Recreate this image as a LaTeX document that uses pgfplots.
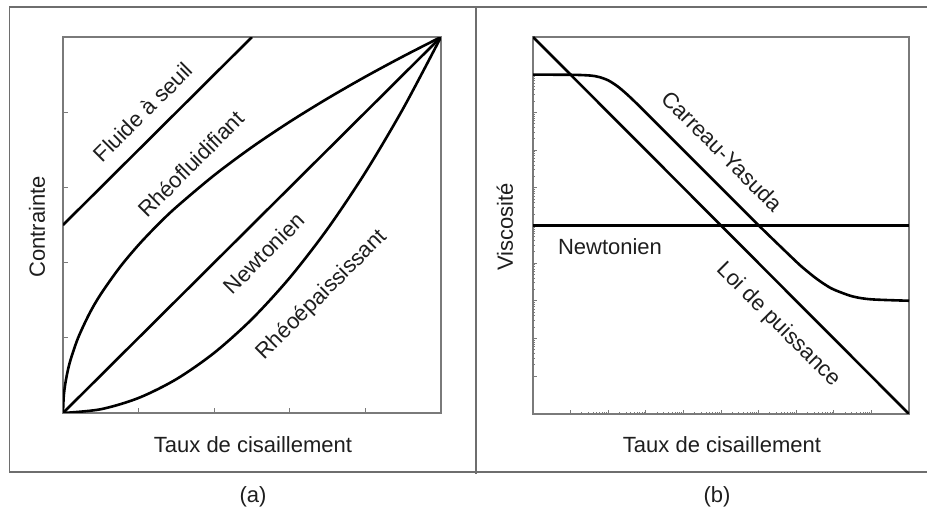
\documentclass[border=0pt]{standalone}
\usepackage{pgfplots}
\pgfplotsset{compat=1.18}
\usepackage{fontspec}
\setmainfont{Liberation Sans}
\definecolor{framegray}{HTML}{6E6E6E}
\definecolor{axgray}{HTML}{7A7A7A}
\definecolor{txt}{HTML}{1E1E1E}
\begin{document}
\begin{tikzpicture}
\path[use as bounding box] (0bp,0bp) rectangle (463.5bp,255.5bp);
% outer frame
\draw[framegray, line width=0.6bp] (463.5bp,252bp) -- (4.75bp,252bp) -- (4.75bp,19.5bp) -- (463.5bp,19.5bp);
\draw[framegray, line width=0.6bp] (238bp,252bp) -- (238bp,18.5bp);

\begin{axis}[
  at={(31.5bp,49bp)}, anchor=south west, scale only axis,
  width=189bp, height=188bp,
  xmin=0, xmax=5, ymin=0, ymax=5,
  xtick={1,2,3,4}, ytick={1,2,3,4},
  xticklabels={}, yticklabels={},
  tick align=inside, tick pos=left,
  major tick length=2.5bp,
  every tick/.style={axgray, line width=0.5bp},
  axis line style={axgray, line width=0.6bp},
]
\addplot[black, line width=1.3bp] coordinates {(0,2.5) (2.5,5)};
\addplot[black, line width=1.3bp] coordinates {(0,0) (5,5)};
\addplot[black, line width=1.3bp, smooth] coordinates {
 (0,0) (0.01,0.224) (0.03,0.387) (0.06,0.548) (0.1,0.707) (0.2,1.0) (0.35,1.323) (0.5,1.581)
 (0.75,1.936) (1,2.236) (1.25,2.5) (1.5,2.739) (2,3.162) (2.5,3.536) (3,3.873)
 (3.5,4.183) (4,4.472) (4.5,4.743) (5,5)};
\addplot[black, line width=1.3bp, smooth] coordinates {
 (0,0) (0.5,0.05) (1,0.2) (1.5,0.45) (2,0.8) (2.5,1.25) (3,1.8) (3.5,2.45)
 (4,3.2) (4.5,4.05) (5,5)};
\end{axis}

\begin{axis}[
  at={(266.5bp,48.5bp)}, anchor=south west, scale only axis,
  width=188bp, height=188.5bp,
  xmode=log, ymode=log,
  xmin=1, xmax=1e10, ymin=1, ymax=1e10,
  xtick={1e1,1e2,1e3,1e4,1e5,1e6,1e7,1e8,1e9},
  ytick={1e1,1e2,1e3,1e4,1e5,1e6,1e7,1e8,1e9},
  xticklabels={}, yticklabels={},
  tick align=inside, tick pos=left,
  major tick length=2.2bp, minor tick length=1.2bp,
  every tick/.style={axgray, line width=0.5bp},
  axis line style={axgray, line width=0.6bp},
]
\addplot[black, line width=1.3bp] coordinates {(1,1e10) (1e10,1)};
\addplot[black, line width=1.3bp] coordinates {(1,1e5) (1e10,1e5)};
\addplot[black, line width=1.3bp, smooth] coordinates {
 (1,1e9) (10,9.95e8) (31.62,9.535e8) (56.23,8.716e8) (100,7.071e8) (177.8,4.90e8)
 (316.2,3.015e8) (562.3,1.751e8) (1000,9.95e7) (1e4,1e7) (1e5,1.001e6) (1e6,1.01e5)
 (1e7,1.1e4) (1.778e7,6623) (3.162e7,4162) (5.623e7,2778) (1e8,2000) (3.162e8,1316)
 (1e9,1100) (1e10,1010)};
\end{axis}

\begin{scope}[every node/.style={text=txt, font=\fontsize{11bp}{13bp}\selectfont, inner sep=0pt}]
\node[rotate=45] at (71.5bp,199.5bp) {Fluide à seuil};
\node[rotate=45] at (95.5bp,173.5bp) {Rhéofluidifiant};
\node[rotate=45] at (132bp,129bp) {Newtonien};
\node[rotate=45] at (161bp,108bp) {Rhéoépaississant};
\node[rotate=90] at (18.5bp,142bp) {Contrainte};
\node at (126.5bp,33bp) {Taux de cisaillement};
\node at (126.5bp,7bp) {(a)};
\node[rotate=-45] at (361bp,180bp) {Carreau-Yasuda};
\node[rotate=-45] at (389bp,93bp) {Loi de puissance};
\node at (305bp,132bp) {Newtonien};
\node[rotate=90] at (252.5bp,142bp) {Viscosité};
\node at (361bp,33bp) {Taux de cisaillement};
\node at (358.5bp,7bp) {(b)};
\end{scope}
\end{tikzpicture}
\end{document}
